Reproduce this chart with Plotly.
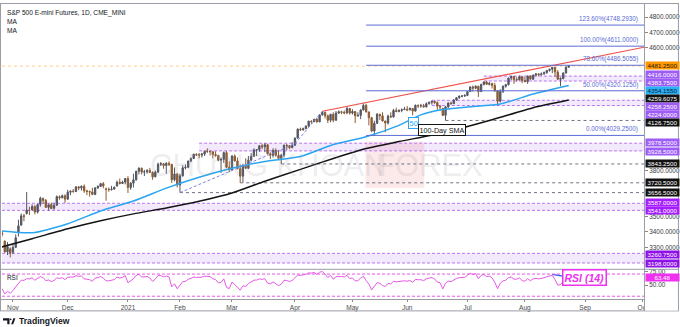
import numpy as np
import pandas as pd
import plotly.graph_objects as go

# ---------------- data ----------------
holidays = ["2020-11-26", "2020-12-25", "2021-01-01", "2021-01-18", "2021-02-15",
            "2021-04-02", "2021-05-31", "2021-07-05", "2021-09-06"]
first_day, last_day = "2020-10-26", "2021-08-24"

open_ = [
    3440, 3395, 3340, 3270, 3290,
    3268, 3300, 3400, 3445, 3505, 3520, 3540, 3545, 3565, 3530, 3580, 3618, 3605, 3560, 3578, 3555, 3575, 3630, 3623, 3636,
    3614, 3659, 3666, 3664, 3694, 3687, 3698, 3668, 3664, 3660, 3645, 3688, 3696, 3715, 3680, 3678, 3676, 3680, 3700, 3724, 3716, 3725,
    3748, 3690, 3718, 3740, 3795, 3815, 3790, 3792, 3800, 3788, 3760, 3790, 3842, 3845, 3833, 3847, 3840, 3740, 3778,
    3706, 3766, 3818, 3822, 3862, 3879, 3907, 3903, 3901, 3908, 3926, 3925, 3923, 3905, 3898, 3868, 3873, 3917, 3822,
    3805, 3895, 3863, 3812, 3764, 3832, 3815, 3868, 3893, 3935, 3937, 3962, 3955, 3968, 3910, 3900, 3932, 3900, 3880, 3900, 3965, 3962, 3950,
    3966, 4012, 4070, 4066, 4073, 4090, 4122, 4120, 4134, 4118, 4163, 4180, 4157, 4128, 4167, 4128, 4175, 4183, 4180, 4176, 4205,
    4175, 4185, 4157, 4160, 4195, 4225, 4182, 4145, 4058, 4108, 4167, 4157, 4123, 4110, 4155, 4150, 4192, 4185, 4192, 4197,
    4200, 4196, 4205, 4188, 4226, 4222, 4223, 4215, 4236, 4245, 4252, 4243, 4220, 4205, 4160, 4216, 4240, 4236, 4260, 4275, 4285, 4286,
    4290, 4315, 4345, 4337, 4350, 4315, 4362, 4378, 4362, 4368, 4355, 4320, 4252, 4316, 4350, 4360, 4403, 4414, 4393, 4392, 4412,
    4387, 4380, 4416, 4396, 4423, 4430, 4425, 4430, 4440, 4453, 4461, 4473, 4442, 4395, 4400, 4436, 4474,
]
high = [
    3450, 3405, 3345, 3335, 3300,
    3320, 3385, 3480, 3520, 3518, 3660, 3565, 3580, 3575, 3585, 3630, 3625, 3615, 3585, 3592, 3590, 3638, 3638, 3644, 3645,
    3675, 3670, 3680, 3697, 3697, 3703, 3710, 3675, 3670, 3688, 3690, 3705, 3720, 3725, 3690, 3690, 3700, 3695, 3735, 3748, 3734, 3752,
    3764, 3725, 3780, 3800, 3822, 3820, 3805, 3810, 3818, 3795, 3800, 3852, 3856, 3850, 3855, 3860, 3845, 3820, 3785,
    3780, 3835, 3840, 3865, 3885, 3910, 3912, 3915, 3915, 3928, 3945, 3930, 3925, 3925, 3900, 3885, 3925, 3928, 3860,
    3900, 3905, 3885, 3840, 3845, 3880, 3895, 3915, 3945, 3940, 3965, 3975, 3980, 3975, 3920, 3945, 3945, 3935, 3910, 3970, 3975, 3965, 3985,
    4015, 4075, 4080, 4080, 4095, 4125, 4128, 4138, 4145, 4167, 4187, 4185, 4165, 4170, 4180, 4188, 4192, 4190, 4192, 4220, 4208,
    4200, 4188, 4180, 4200, 4238, 4236, 4185, 4150, 4125, 4175, 4170, 4180, 4125, 4165, 4180, 4202, 4210, 4200, 4205, 4215,
    4220, 4212, 4208, 4230, 4230, 4235, 4235, 4245, 4250, 4255, 4255, 4250, 4228, 4210, 4220, 4245, 4250, 4265, 4278, 4290, 4292, 4298,
    4318, 4350, 4355, 4355, 4352, 4365, 4380, 4385, 4378, 4372, 4372, 4325, 4330, 4355, 4365, 4405, 4418, 4415, 4408, 4420, 4415,
    4410, 4420, 4420, 4425, 4435, 4435, 4440, 4445, 4455, 4463, 4475, 4475, 4455, 4408, 4440, 4480, 4488,
]
low = [
    3370, 3370, 3265, 3250, 3234,
    3255, 3295, 3370, 3440, 3470, 3515, 3510, 3540, 3515, 3520, 3565, 3585, 3560, 3540, 3550, 3545, 3570, 3610, 3620, 3590,
    3610, 3640, 3655, 3660, 3673, 3670, 3655, 3640, 3630, 3640, 3640, 3680, 3695, 3685, 3604, 3662, 3670, 3675, 3695, 3710, 3712, 3710,
    3654, 3675, 3690, 3735, 3775, 3775, 3765, 3780, 3785, 3740, 3755, 3785, 3830, 3812, 3780, 3830, 3720, 3730, 3690,
    3656.5, 3760, 3808, 3815, 3855, 3875, 3895, 3880, 3885, 3895, 3915, 3898, 3880, 3890, 3860, 3785, 3850, 3815, 3790,
    3800, 3860, 3808, 3720.5, 3723, 3810, 3810, 3860, 3890, 3895, 3920, 3940, 3920, 3905, 3875, 3885, 3890, 3875, 3843.25, 3885, 3935, 3940, 3945,
    3960, 4010, 4058, 4060, 4070, 4085, 4105, 4115, 4112, 4115, 4160, 4140, 4110, 4115, 4115, 4125, 4170, 4168, 4168, 4168, 4165,
    4165, 4110, 4150, 4135, 4192, 4180, 4095, 4050, 4029.25, 4105, 4130, 4120, 4050, 4100, 4145, 4145, 4180, 4180, 4180, 4195,
    4188, 4192, 4160, 4185, 4208, 4210, 4212, 4212, 4230, 4230, 4235, 4195, 4190, 4155, 4126.75, 4205, 4230, 4235, 4255, 4268, 4278, 4280,
    4285, 4312, 4315, 4330, 4280, 4312, 4355, 4360, 4355, 4335, 4315, 4224, 4245, 4305, 4340, 4355, 4390, 4365, 4380, 4388, 4370,
    4375, 4365, 4395, 4390, 4415, 4415, 4420, 4425, 4430, 4445, 4435, 4410, 4395, 4350, 4395, 4432, 4470,
]
close = [
    3392, 3383, 3270, 3305, 3262,
    3300, 3362, 3440, 3505, 3502, 3543, 3540, 3566, 3530, 3578, 3620, 3605, 3560, 3577, 3552, 3574, 3630, 3623, 3636, 3614,
    3659, 3666, 3664, 3694, 3687, 3698, 3668, 3664, 3660, 3645, 3688, 3696, 3715, 3700, 3678, 3676, 3680, 3692, 3724, 3716, 3725, 3748,
    3690, 3718, 3740, 3795, 3815, 3790, 3792, 3800, 3788, 3759, 3790, 3842, 3845, 3833, 3847, 3840, 3740, 3778, 3706,
    3766, 3818, 3822, 3862, 3879, 3907, 3903, 3901, 3908, 3926, 3925, 3923, 3905, 3898, 3868, 3873, 3917, 3822, 3805,
    3895, 3863, 3812, 3764, 3832, 3815, 3868, 3893, 3935, 3937, 3962, 3955, 3968, 3910, 3900, 3932, 3900, 3880, 3900, 3965, 3962, 3950, 3966,
    4012, 4070, 4066, 4073, 4090, 4122, 4120, 4134, 4118, 4163, 4180, 4157, 4128, 4167, 4128, 4175, 4183, 4180, 4176, 4205, 4175,
    4185, 4157, 4160, 4195, 4225, 4182, 4145, 4058, 4108, 4167, 4157, 4123, 4110, 4155, 4150, 4192, 4185, 4192, 4197, 4200,
    4196, 4205, 4188, 4226, 4222, 4223, 4215, 4236, 4245, 4252, 4243, 4220, 4215, 4160, 4216, 4240, 4236, 4260, 4275, 4285, 4286, 4290,
    4315, 4345, 4337, 4350, 4315, 4362, 4378, 4362, 4368, 4355, 4320, 4252, 4316, 4350, 4360, 4403, 4414, 4393, 4392, 4412, 4387,
    4380, 4416, 4396, 4423, 4430, 4425, 4430, 4440, 4453, 4461, 4473, 4442, 4395, 4400, 4436, 4474, 4481.25,
]
# Sep 1 - Oct 23 2020 closes, used only to seed the RSI
warmup_close = [3518, 3572, 3447, 3419, 3324, 3391, 3331, 3333, 3376, 3393, 3377, 3349, 3311,
                3273, 3307, 3229, 3239, 3290, 3343, 3327, 3355, 3373, 3340, 3400, 3353, 3411,
                3439, 3469, 3527, 3504, 3481, 3475, 3476, 3419, 3435, 3428, 3445, 3457]

ma50_dates = ["2020-10-26", "2020-11-11", "2020-12-01", "2020-12-17", "2021-01-06", "2021-01-25",
              "2021-02-10", "2021-03-01", "2021-03-17", "2021-04-06", "2021-04-22", "2021-05-10",
              "2021-05-26", "2021-06-08", "2021-06-17", "2021-07-01", "2021-07-20", "2021-08-05", "2021-08-24"]
ma50 = [3408, 3395, 3454, 3537, 3602, 3686, 3757, 3815, 3860, 3892, 3970, 4021,
        4095, 4163, 4195, 4215, 4234, 4299, 4354.155]

ma100_dates = ["2020-10-26", "2020-11-11", "2020-12-01", "2020-12-17", "2021-01-06", "2021-01-25",
               "2021-02-10", "2021-03-01", "2021-03-17", "2021-04-06", "2021-04-22", "2021-05-10",
               "2021-05-26", "2021-06-21", "2021-07-15", "2021-08-05", "2021-08-24"]
ma100 = [3298, 3356, 3421, 3473, 3518, 3556, 3600, 3654, 3731, 3808, 3879, 3944,
         3989, 4050, 4131, 4210, 4259.6075]

zone_start = ["2021-07-12", "2021-06-14", "2021-02-10", None, None]
zone_low = [4383.75, 4224.0, 3928.5, 3541.0, 3198.0]
zone_high = [4416.0, 4258.25, 3978.5, 3587.0, 3260.75]

level_start = ["2021-06-21", "2021-03-25", "2021-03-04", "2021-02-01"]
level_price = [4126.75, 3843.25, 3720.5, 3656.5]

fib_start = "2021-05-10"
fib_zero, fib_one = 4029.25, 4611.0
fib_ratios = [0.0, 0.5, 0.786, 1.0, 1.236]

trend_dates = ["2021-04-16", "2021-10-01 12:00"]
trend_prices = [4187.0, 4604.0]

channel_dates = ["2021-02-01", "2021-04-01", "2021-04-16"]
channel_prices = [3656.5, 3975.0, 4187.0]

last_price = 4481.25
rsi_last = 63.48
rsi_tl_dates = ["2021-08-16", "2021-08-24"]
rsi_tl = [69.6, 64.3]

month_ticks = ["2020-11-02", "2020-12-01", "2021-01-04", "2021-02-01", "2021-03-01", "2021-04-01",
               "2021-05-03", "2021-06-01", "2021-07-01", "2021-08-02", "2021-09-01", "2021-10-01"]
month_labels = ["Nov", "Dec", "2021", "Feb", "Mar", "Apr", "May", "Jun", "Jul", "Aug", "Sep", "Oct"]
# scale values left uncovered by the level tags
price_ticks = [3300, 3400, 3500, 3800, 4600, 4700, 4800]
rsi_ticks = [50, 75]

# ---------------- derived series ----------------
dates = pd.bdate_range(first_day, last_day, freq="C", holidays=holidays)
assert len(dates) == len(close)


def wilder_rsi(series, n=14):
    s = np.asarray(series, float)
    d = np.diff(s)
    up = np.where(d > 0, d, 0.0)
    dn = np.where(d < 0, -d, 0.0)
    out = np.full(len(s), np.nan)
    au, ad = up[:n].mean(), dn[:n].mean()
    out[n] = 100 - 100 / (1 + au / ad)
    for i in range(n, len(d)):
        au = (au * (n - 1) + up[i]) / n
        ad = (ad * (n - 1) + dn[i]) / n
        out[i + 1] = 100 - 100 / (1 + au / ad)
    return out


rsi = wilder_rsi(warmup_close + close)[len(warmup_close):]

# ---------------- layout geometry ----------------
W, H = 680, 327
ML, MR, MT, MB = 2, 35, 0, 28
PW, PH = W - ML - MR, H - MT - MB
X0, X1 = "2020-10-26 23:45", "2021-10-01 12:00"
MAIN_BOTTOM, RSI_TOP = 268, 270


def px(x):
    return (x - ML) / PW


def py(y):
    return (PH + MT - y) / PH


FONT = "Liberation Sans, Arial, sans-serif"
NARROW = "Liberation Sans Narrow, Liberation Sans, Arial, sans-serif"
UP, DN = "#535763", "#8b5b33"
ZONE_FILL, ZONE_LINE = "rgba(165, 85, 240, 0.13)", "#b874f2"
FIB = "#5b6bd6"
RSI_C = "#e658e6"

fig = go.Figure()

# watermark
fig.add_shape(type="rect", xref="paper", yref="paper", x0=px(366), x1=px(425), y0=py(187), y1=py(140),
              fillcolor="rgba(235, 110, 110, 0.15)", line_width=0, layer="below")
fig.add_annotation(x=px(269), y=py(164), xref="paper", yref="paper", text="CHỨNG KHOÁN", showarrow=False,
                   font=dict(family=FONT, size=31, color="rgba(150,150,160,0.18)"))
fig.add_annotation(x=px(486), y=py(164), xref="paper", yref="paper", text="FOREX", showarrow=False,
                   font=dict(family=FONT, size=31, color="rgba(150,150,160,0.18)"))

# horizontal zones
for s, lo, hi in zip(zone_start, zone_low, zone_high):
    x0 = s if s else X0
    fig.add_shape(type="rect", xref="x", yref="y", x0=x0, x1=X1, y0=lo, y1=hi,
                  fillcolor=ZONE_FILL, line_width=0, layer="below")
    for v in (lo, hi):
        fig.add_shape(type="line", xref="x", yref="y", x0=x0, x1=X1, y0=v, y1=v,
                      line=dict(color=ZONE_LINE, width=1, dash="3px,2px"), layer="below")

# support levels
for s, v in zip(level_start, level_price):
    fig.add_shape(type="line", xref="x", yref="y", x0=s, x1=X1, y0=v, y1=v,
                  line=dict(color="#6f7280", width=1, dash="3px,3px"), layer="below")

# last price line
fig.add_shape(type="line", xref="x", yref="y", x0=X0, x1=X1, y0=last_price, y1=last_price,
              line=dict(color="rgba(255,167,38,0.55)", width=1, dash="dot"), layer="below")

# fibonacci levels
fib_prices = [fib_zero + r * (fib_one - fib_zero) for r in fib_ratios]
for r, p in zip(fib_ratios, fib_prices):
    fig.add_shape(type="line", xref="x", yref="y", x0=fib_start, x1=X1, y0=p, y1=p,
                  line=dict(color=FIB, width=1))
    fig.add_annotation(x=px(641), y=p, xref="paper", yref="y", xanchor="right", yanchor="bottom",
                       text=f"{r * 100:.2f}%({p:.4f})", showarrow=False,
                       font=dict(family=FONT, size=6.3, color=FIB))

# candles
fig.add_trace(go.Candlestick(
    x=dates, open=open_, high=high, low=low, close=close, xaxis="x", yaxis="y",
    increasing=dict(line=dict(color=UP, width=1), fillcolor=UP),
    decreasing=dict(line=dict(color=DN, width=1), fillcolor=DN),
    whiskerwidth=0, showlegend=False, hoverinfo="skip"))

# moving averages
fig.add_trace(go.Scatter(x=ma50_dates, y=ma50, mode="lines", xaxis="x", yaxis="y",
                         line=dict(color="#2aa5f2", width=1.5, shape="spline", smoothing=0.6),
                         hoverinfo="skip"))
fig.add_trace(go.Scatter(x=ma100_dates, y=ma100, mode="lines", xaxis="x", yaxis="y",
                         line=dict(color="#141414", width=1.5, shape="spline", smoothing=0.6),
                         hoverinfo="skip"))

# drawn trend lines
fig.add_trace(go.Scatter(x=trend_dates, y=trend_prices, mode="lines", xaxis="x", yaxis="y",
                         line=dict(color="#f0504a", width=1.2), hoverinfo="skip"))
fig.add_trace(go.Scatter(x=channel_dates, y=channel_prices, mode="lines", xaxis="x", yaxis="y",
                         line=dict(color="#7b86e0", width=1, dash="3px,2px"), hoverinfo="skip"))

# RSI pane
for lvl in (70, 30):
    fig.add_shape(type="line", xref="x2", yref="y2", x0=X0, x1=X1, y0=lvl, y1=lvl,
                  line=dict(color=RSI_C, width=1, dash="3px,2px"))
fig.add_trace(go.Scatter(x=dates, y=rsi, mode="lines", xaxis="x2", yaxis="y2",
                         line=dict(color=RSI_C, width=1), hoverinfo="skip"))
fig.add_trace(go.Scatter(x=rsi_tl_dates, y=rsi_tl, mode="lines", xaxis="x2", yaxis="y2",
                         line=dict(color="#2f5bf0", width=1.3), hoverinfo="skip"))

# frame and pane separators
GRID = "#9a9da6"
for x0, y0, x1, y1 in [(0, 0.5, 680, 0.5), (0.5, 0, 0.5, 311), (679.5, 0, 679.5, 311),
                       (0, 269, 680, 269), (0, 299.5, 645, 299.5), (0, 311, 680, 311),
                       (645.5, 0, 645.5, 311)]:
    fig.add_shape(type="line", xref="paper", yref="paper", x0=px(x0), x1=px(x1), y0=py(y0), y1=py(y1),
                  line=dict(color=GRID, width=1))
# keep the last month label from spilling into the price scale
fig.add_shape(type="rect", xref="paper", yref="paper", x0=px(646), x1=px(679), y0=py(310.5), y1=py(300),
              fillcolor="white", line_width=0)

# price scale tags: value, background, text colour, vertical nudge (px, up is positive)
tags = [
    (last_price, "#ff9800", "#1a1a1a", 0.2),
    (zone_high[0], "#9d5cf6", "white", 1.8),
    (zone_low[0], "#9d5cf6", "white", -1.2),
    (ma50[-1], "#29b0f5", "#0b1d33", -4.6),
    (ma100[-1], "#111111", "white", 1.1),
    (zone_high[1], "#9d5cf6", "white", -6.7),
    (zone_low[1], "#9d5cf6", "white", -9.4),
    (level_price[0], "#111111", "white", -2.4),
    (zone_high[2], "#9d5cf6", "white", 0.4),
    (zone_low[2], "#9d5cf6", "white", -0.4),
    (level_price[1], "#111111", "white", 0.6),
    (level_price[2], "#111111", "white", 0),
    (level_price[3], "#111111", "white", 0),
    (zone_high[3], "#a51cff", "white", 0.6),
    (zone_low[3], "#a51cff", "white", -0.6),
    (zone_high[4], "#8e12e8", "white", -1.2),
    (zone_low[4], "#8e12e8", "white", -1.0),
]
for val, bg, fg, shift in tags:
    fig.add_annotation(x=px(646), y=val, xref="paper", yref="y", xanchor="left", yanchor="middle",
                       text=f"{val:.4f}", showarrow=False, yshift=shift, bgcolor=bg, width=33, height=7,
                       borderpad=0, align="center", font=dict(family=NARROW, size=6.2, color=fg))
fig.add_annotation(x=px(646), y=rsi_last, xref="paper", yref="y2", xanchor="left", yanchor="middle",
                   text=f"{rsi_last:.2f}", showarrow=False, bgcolor="#f030f0", width=33, height=7,
                   borderpad=0, align="center", font=dict(family=NARROW, size=6.2, color="white"))

# text labels
fig.add_annotation(x=px(5), y=py(10), xref="paper", yref="paper", xanchor="left", yanchor="middle",
                   text="S&P 500 E-mini Futures, 1D, CME_MINI", showarrow=False,
                   font=dict(family=FONT, size=6.6, color="#131722"))
for yy in (19, 28):
    fig.add_annotation(x=px(5), y=py(yy), xref="paper", yref="paper", xanchor="left", yanchor="middle",
                       text="MA", showarrow=False, font=dict(family=FONT, size=6.6, color="#131722"))
fig.add_annotation(x=px(5), y=py(277), xref="paper", yref="paper", xanchor="left", yanchor="middle",
                   text="RSI", showarrow=False, font=dict(family=FONT, size=6.4, color="#131722"))
fig.add_annotation(x=px(414.5), y=py(121), xref="paper", yref="paper", text="50", showarrow=False,
                   bgcolor="white", bordercolor="#2aa5f2", borderwidth=1, borderpad=0.5,
                   font=dict(family=FONT, size=7.5, color="#2aa5f2"))
fig.add_annotation(x=px(466.5), y=py(128), xref="paper", yref="paper", text="100-Day SMA", showarrow=False,
                   bgcolor="white", bordercolor="#141414", borderwidth=1, borderpad=0.5,
                   font=dict(family=FONT, size=7.2, color="#141414"))
fig.add_annotation(x=px(607.5), y=py(286), xref="paper", yref="paper", text="<i><b>RSI (14)</b></i>",
                   showarrow=False, bgcolor="white", bordercolor="#ee30ee", borderwidth=1.5, borderpad=1,
                   font=dict(family=FONT, size=10.5, color="#ee30ee"))

# TradingView badge
fig.add_shape(type="path", xref="paper", yref="paper",
              path=f"M {px(3)},{py(318.5)} L {px(9.5)},{py(318.5)} L {px(9.5)},{py(324.5)} "
                   f"L {px(7.3)},{py(324.5)} L {px(7.3)},{py(320.6)} L {px(3)},{py(320.6)} Z",
              fillcolor="#131722", line_width=0)
fig.add_shape(type="circle", xref="paper", yref="paper", x0=px(9.9), x1=px(11.5), y0=py(320.4), y1=py(318.8),
              fillcolor="#131722", line_width=0)
fig.add_shape(type="path", xref="paper", yref="paper",
              path=f"M {px(11.2)},{py(324.5)} L {px(13.4)},{py(318.5)} L {px(15.4)},{py(318.5)} "
                   f"L {px(13.2)},{py(324.5)} Z",
              fillcolor="#131722", line_width=0)
fig.add_annotation(x=px(17), y=py(321.5), xref="paper", yref="paper", xanchor="left", yanchor="middle",
                   text="<b>TradingView</b>", showarrow=False, font=dict(family=FONT, size=8.6, color="#131722"))

breaks = [dict(bounds=["sat", "mon"]), dict(values=holidays)]
main_lo = 4800 - (MAIN_BOTTOM - 14.3) / 0.155
main_hi = 4800 + 14.3 / 0.155
rsi_hi = 50 + (285 - RSI_TOP) / 0.56
rsi_lo = 50 - (299 - 285) / 0.56

fig.update_layout(
    width=W, height=H, margin=dict(l=ML, r=MR, t=MT, b=MB),
    paper_bgcolor="white", plot_bgcolor="white", showlegend=False, hovermode=False,
    font=dict(family=FONT),
    xaxis=dict(domain=[0, 1], anchor="y", type="date", range=[X0, X1], rangebreaks=breaks,
               showticklabels=False, showgrid=False, zeroline=False, ticks="", rangeslider=dict(visible=False)),
    xaxis2=dict(domain=[0, 1], anchor="y2", type="date", range=[X0, X1], rangebreaks=breaks, matches="x",
                tickvals=month_ticks, ticktext=month_labels, ticks="outside", ticklen=2, tickcolor="#888",
                tickfont=dict(family=FONT, size=6.6, color="#4a4a4a"), showgrid=False, zeroline=False),
    yaxis=dict(domain=[py(MAIN_BOTTOM), 1], anchor="x", side="right", range=[main_lo, main_hi],
               tickvals=price_ticks, tickformat=".4f", ticks="outside", ticklen=3, tickcolor="#888",
               tickfont=dict(family=NARROW, size=6.4, color="#3a3a3a"), showgrid=False, zeroline=False),
    yaxis2=dict(domain=[0, py(RSI_TOP)], anchor="x2", side="right", range=[rsi_lo, rsi_hi],
                tickvals=rsi_ticks, tickformat=".2f", ticks="outside", ticklen=3, tickcolor="#888",
                tickfont=dict(family=NARROW, size=6.4, color="#3a3a3a"), showgrid=False, zeroline=False),
)

fig.write_html("out.html")
